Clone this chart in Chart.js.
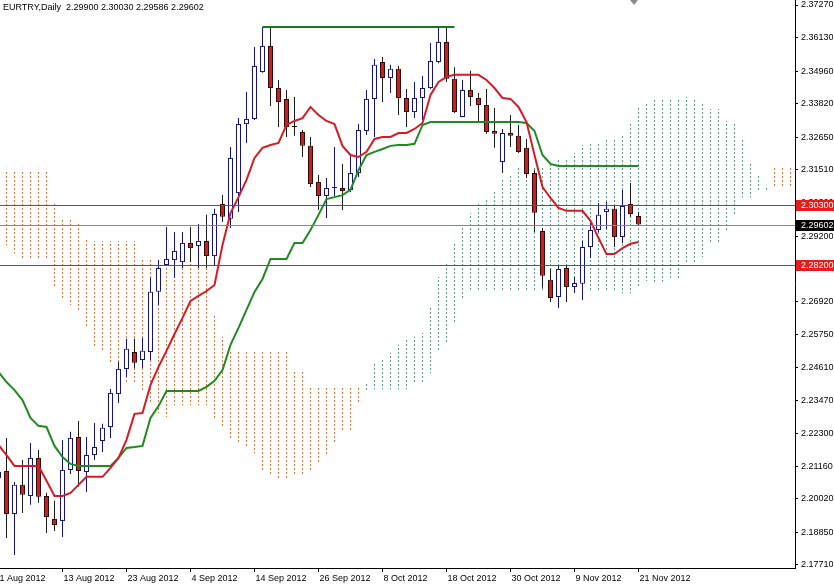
<!DOCTYPE html>
<html>
<head>
<meta charset="utf-8">
<title>EURTRY Daily</title>
<script src="https://cdn.jsdelivr.net/npm/chart.js@4.4.1/dist/chart.umd.min.js"></script>
<style>
    html, body { margin: 0; padding: 0; background: #fff; }
    #chart { display: block; }
</style>
</head>
<body>
<canvas id="chart" width="834" height="585"></canvas>
<script>
/* EURTRY daily candles with Ichimoku, 1 Aug - 21 Nov 2012 */

const symbolTitle = 'EURTRY,Daily  2.29900 2.30030 2.29586 2.29602';

// date labels on the time axis and the bar they sit on (bar 0 = 1 Aug 2012)
const dateLabels = ['1 Aug 2012', '13 Aug 2012', '23 Aug 2012', '4 Sep 2012', '14 Sep 2012',
    '26 Sep 2012', '8 Oct 2012', '18 Oct 2012', '30 Oct 2012', '9 Nov 2012', '21 Nov 2012'];
const dateLabelBars = [0, 8, 16, 24, 32, 40, 48, 56, 64, 72, 80];

const priceTicks = [2.37270, 2.36130, 2.34960, 2.33820, 2.32650, 2.31510, 2.30360, 2.29200, 2.28060,
    2.26920, 2.25750, 2.24610, 2.23470, 2.22300, 2.21160, 2.20020, 2.18850, 2.17710];

// candles, bars 0..80
const opens = [2.2075, 2.2099, 2.1949, 2.2051, 2.2012, 2.2145, 2.2012, 2.1932, 2.1925, 2.2103,
    2.2218, 2.2096, 2.2155, 2.2204, 2.2253, 2.2368, 2.2456, 2.2515, 2.2487, 2.2515,
    2.2725, 2.2819, 2.2836, 2.2829, 2.2896, 2.2885, 2.2903, 2.2850, 2.3032, 2.2980,
    2.3070, 2.3311, 2.3329, 2.3493, 2.3584, 2.3437, 2.3399, 2.3304, 2.3283, 2.3235,
    2.3109, 2.3060, 2.3088, 2.3088, 2.3081, 2.3140, 2.3287, 2.3399, 2.3528, 2.3472,
    2.3504, 2.3402, 2.3353, 2.3402, 2.3437, 2.3528, 2.3598, 2.3469, 2.3336, 2.3430,
    2.3402, 2.3378, 2.3287, 2.3179, 2.3280, 2.3270, 2.3228, 2.3140, 2.2938, 2.2767,
    2.2707, 2.2808, 2.2742, 2.2753, 2.2882, 2.2941, 2.3004, 2.3015, 2.2917, 2.3032,
    2.29900];
const highs = [2.2110, 2.2215, 2.2061, 2.2138, 2.2197, 2.2173, 2.2023, 2.1995, 2.2208, 2.2236,
    2.2274, 2.2218, 2.2267, 2.2264, 2.2386, 2.2480, 2.2561, 2.2561, 2.2564, 2.2774,
    2.2836, 2.2952, 2.2934, 2.2934, 2.2952, 2.2962, 2.2994, 2.3015, 2.3063, 2.3231,
    2.3332, 2.3423, 2.3580, 2.3650, 2.3650, 2.3465, 2.3430, 2.3406, 2.3290, 2.3266,
    2.3133, 2.3123, 2.3231, 2.3172, 2.3203, 2.3311, 2.3430, 2.3538, 2.3545, 2.3518,
    2.3514, 2.3434, 2.3458, 2.3479, 2.3594, 2.3650, 2.3650, 2.3510, 2.3465, 2.3497,
    2.3420, 2.3434, 2.3367, 2.3294, 2.3343, 2.3308, 2.3259, 2.3151, 2.2948, 2.2805,
    2.2819, 2.2819, 2.2777, 2.2903, 2.2966, 2.3035, 2.3039, 2.3028, 2.3081, 2.3105,
    2.30030];
const lows = [2.2060, 2.1865, 2.1806, 2.1953, 2.1981, 2.1988, 2.1883, 2.1890, 2.1869, 2.2089,
    2.2044, 2.2026, 2.2138, 2.2166, 2.2215, 2.2337, 2.2428, 2.2459, 2.2459, 2.2487,
    2.2679, 2.2815, 2.2774, 2.2808, 2.2829, 2.2808, 2.2808, 2.2819, 2.2969, 2.2948,
    2.3004, 2.3245, 2.3325, 2.3490, 2.3374, 2.3301, 2.3266, 2.3270, 2.3196, 2.3091,
    2.3011, 2.2983, 2.3060, 2.3011, 2.3074, 2.3126, 2.3273, 2.3266, 2.3388, 2.3420,
    2.3343, 2.3301, 2.3332, 2.3325, 2.3434, 2.3524, 2.3458, 2.3350, 2.3335, 2.3374,
    2.3318, 2.3277, 2.3228, 2.3140, 2.3231, 2.3210, 2.3123, 2.2934, 2.2739, 2.2690,
    2.2669, 2.2690, 2.2721, 2.2697, 2.2843, 2.2934, 2.2945, 2.2882, 2.2896, 2.2987,
    2.29586];
const closes = [2.2096, 2.1949, 2.2051, 2.2016, 2.2145, 2.2009, 2.1939, 2.1911, 2.2103, 2.2215,
    2.2099, 2.2155, 2.2183, 2.2250, 2.2372, 2.2456, 2.2526, 2.2477, 2.2519, 2.2725,
    2.2808, 2.2840, 2.2868, 2.2896, 2.2878, 2.2903, 2.2850, 2.2997, 2.2987, 2.3193,
    2.3311, 2.3329, 2.3514, 2.3584, 2.3437, 2.3388, 2.3301, 2.3301, 2.3235, 2.3102,
    2.3060, 2.3088, 2.3091, 2.3077, 2.3140, 2.3290, 2.3399, 2.3518, 2.3472, 2.3504,
    2.3402, 2.3353, 2.3402, 2.3437, 2.3531, 2.3598, 2.3469, 2.3353, 2.3430, 2.3406,
    2.3378, 2.3283, 2.3277, 2.3280, 2.3270, 2.3214, 2.3137, 2.3001, 2.2781, 2.2704,
    2.2805, 2.2742, 2.2756, 2.2882, 2.2941, 2.2994, 2.3015, 2.2917, 2.3025, 2.2997,
    2.29602];

// Ichimoku tenkan-sen / kijun-sen, bars 0..80
const tenkan = [2.2190, 2.2155, 2.2117, 2.2117, 2.2117, 2.2117, 2.2065, 2.2012, 2.2012, 2.2023,
    2.2051, 2.2079, 2.2079, 2.2079, 2.2110, 2.2145, 2.2208, 2.2299, 2.2302, 2.2400,
    2.2463, 2.2519, 2.2578, 2.2634, 2.2693, 2.2711, 2.2728, 2.2749, 2.2889, 2.3000,
    2.3056, 2.3116, 2.3193, 2.3228, 2.3238, 2.3245, 2.3308, 2.3322, 2.3332, 2.3371,
    2.3343, 2.3322, 2.3311, 2.3235, 2.3203, 2.3196, 2.3214, 2.3259, 2.3266, 2.3266,
    2.3280, 2.3280, 2.3294, 2.3315, 2.3413, 2.3458, 2.3476, 2.3483, 2.3483, 2.3483,
    2.3483, 2.3465, 2.3437, 2.3402, 2.3399, 2.3371, 2.3318, 2.3203, 2.3091, 2.3053,
    2.3018, 2.3008, 2.3008, 2.3008, 2.2973, 2.2913, 2.2857, 2.2857, 2.2878, 2.2893,
    2.2899];
const kijun = [2.2445, 2.2410, 2.2382, 2.2347, 2.2285, 2.2257, 2.2253, 2.2187, 2.2148, 2.2124,
    2.2117, 2.2117, 2.2117, 2.2117, 2.2117, 2.2145, 2.2180, 2.2183, 2.2187, 2.2285,
    2.2326, 2.2379, 2.2379, 2.2379, 2.2379, 2.2379, 2.2393, 2.2414, 2.2452, 2.2540,
    2.2599, 2.2662, 2.2725, 2.2770, 2.2840, 2.2840, 2.2840, 2.2896, 2.2896, 2.2941,
    2.2994, 2.3049, 2.3056, 2.3063, 2.3081, 2.3150, 2.3203, 2.3214, 2.3224, 2.3235,
    2.3238, 2.3238, 2.3242, 2.3308, 2.3318, 2.3318, 2.3318, 2.3318, 2.3318, 2.3318,
    2.3318, 2.3318, 2.3318, 2.3318, 2.3318, 2.3318, 2.3315, 2.3287, 2.3203, 2.3172,
    2.3165, 2.3165, 2.3165, 2.3165, 2.3165, 2.3165, 2.3165, 2.3165, 2.3165, 2.3165,
    2.3165];

// senkou span A / B (cloud), bars 0..99
const spanA = [null, 2.3144, 2.3144, 2.3144, 2.3144, 2.3144, 2.3144, 2.3039, 2.2983, 2.2983,
    2.2969, 2.2906, 2.2903, 2.2903, 2.2903, 2.2903, 2.2903, 2.2903, 2.2843, 2.2843,
    2.2836, 2.2836, 2.2836, 2.2836, 2.2836, 2.2836, 2.2836, 2.2644, 2.2568, 2.2515,
    2.2515, 2.2515, 2.2515, 2.2515, 2.2515, 2.2515, 2.2515, 2.2452, 2.2452, 2.2396,
    2.2396, 2.2396, 2.2396, 2.2396, 2.2396, 2.2396, 2.2382, 2.2386, 2.2386, 2.2386,
    2.2386, 2.2386, 2.2410, 2.2410, 2.2442, 2.2515, 2.2550, 2.2620, 2.2697, 2.2732,
    2.2732, 2.2732, 2.2732, 2.2725, 2.2725, 2.2725, 2.2725, 2.2725, 2.2725, 2.2725,
    2.2725, 2.2725, 2.2725, 2.2725, 2.2725, 2.2725, 2.2725, 2.2725, 2.2721, 2.2721,
    2.2742, 2.2763, 2.2756, 2.2760, 2.2774, 2.2767, 2.2829, 2.2826, 2.2847, 2.2896,
    2.2896, 2.2934, 2.2994, 2.3056, 2.3056, 2.3081, 2.3081, 2.3161, 2.3161, 2.3161];
const spanB = [null, 2.2889, 2.2861, 2.2836, 2.2836, 2.2836, 2.2836, 2.2739, 2.2697, 2.2679,
    2.2662, 2.2602, 2.2533, 2.2515, 2.2480, 2.2470, 2.2407, 2.2407, 2.2382, 2.2337,
    2.2302, 2.2288, 2.2330, 2.2330, 2.2330, 2.2330, 2.2330, 2.2278, 2.2253, 2.2208,
    2.2194, 2.2180, 2.2162, 2.2096, 2.2085, 2.2075, 2.2075, 2.2085, 2.2085, 2.2096,
    2.2131, 2.2155, 2.2197, 2.2239, 2.2239, 2.2340, 2.2410, 2.2473, 2.2487, 2.2512,
    2.2540, 2.2564, 2.2568, 2.2581, 2.2672, 2.2777, 2.2829, 2.2892, 2.2959, 2.3000,
    2.3039, 2.3046, 2.3081, 2.3123, 2.3130, 2.3165, 2.3168, 2.3158, 2.3158, 2.3168,
    2.3186, 2.3186, 2.3210, 2.3238, 2.3245, 2.3245, 2.3256, 2.3256, 2.3273, 2.3315,
    2.3371, 2.3388, 2.3399, 2.3399, 2.3399, 2.3399, 2.3406, 2.3395, 2.3381, 2.3364,
    2.3364, 2.3322, 2.3315, 2.3256, 2.3179, 2.3133, 2.3091, 2.3088, 2.3088, 2.3088];

// drawn objects
const resistanceLevel = 2.3650;
const resistanceBars = [33, 57];
const priceLevels = [2.30300, 2.28200];
const bidPrice = 2.29602;

const FONT_FAMILY = 'Liberation Sans';
const FONT_SIZE = 9;

const canvas = document.getElementById('chart');
const ctx = canvas.getContext('2d');

function dotPattern(color) {
    const c = document.createElement('canvas');
    c.width = 1;
    c.height = 4;
    const g = c.getContext('2d');
    g.fillStyle = color;
    g.fillRect(0, 0, 1, 2);
    return ctx.createPattern(c, 'repeat');
}

const upKumo = dotPattern('#d8743c');
const downKumo = dotPattern('#5a9888');

const bars = opens.map((_, i) => i);
const bullish = bars.map(i => closes[i] >= opens[i]);

const cloudData = [];
const cloudColors = [];
spanA.forEach((a, i) => {
    if (a === null) return;
    cloudData.push({ x: i, y: [a, spanB[i]] });
    cloudColors.push(a >= spanB[i] ? upKumo : downKumo);
});

const xMin = 0.1875;
const xMax = 99.5625;

const overlay = {
    id: 'overlay',
    afterDatasetsDraw(chart) {
        const { ctx, chartArea: a, scales: { y } } = chart;
        ctx.save();
        const level = (v, color) => {
            const py = Math.round(y.getPixelForValue(v));
            ctx.fillStyle = color;
            ctx.fillRect(a.left, py, a.right - a.left, 1);
        };
        level(bidPrice, '#7d8b98');
        priceLevels.forEach(v => level(v, '#e41e1e'));
        ctx.restore();
    },
    afterDraw(chart) {
        const { ctx, chartArea: a, scales: { y } } = chart;
        ctx.save();
        ctx.font = FONT_SIZE + 'px "' + FONT_FAMILY + '"';

        // price tags on the axis
        const tag = (v, bg) => {
            const py = Math.round(y.getPixelForValue(v));
            ctx.fillStyle = bg;
            ctx.fillRect(a.right + 1, py - 5, chart.width - a.right, 11);
            ctx.fillStyle = '#fff';
            ctx.textBaseline = 'middle';
            ctx.fillText(v.toFixed(5), a.right + 6, py + 0.5);
        };
        priceLevels.forEach(v => tag(v, '#e51c1c'));
        tag(bidPrice, '#000');

        // title
        ctx.fillStyle = '#000';
        ctx.textBaseline = 'alphabetic';
        ctx.fillText(symbolTitle, 3, 10);

        // chart shift marker
        ctx.fillStyle = '#8c8c8c';
        ctx.beginPath();
        ctx.moveTo(a.left + 630, a.top);
        ctx.lineTo(a.left + 638, a.top);
        ctx.lineTo(a.left + 634, a.top + 5);
        ctx.closePath();
        ctx.fill();
        ctx.restore();
    }
};

Chart.defaults.font.family = FONT_FAMILY;
Chart.defaults.font.size = FONT_SIZE;
Chart.defaults.color = '#000';

new Chart(ctx, {
    type: 'bar',
    data: {
        datasets: [
            {
                label: 'Kumo',
                data: cloudData,
                backgroundColor: cloudColors,
                borderWidth: 0,
                barThickness: 1,
                inflateAmount: 0,
                grouped: false,
                order: 10
            },
            {
                label: 'Wicks',
                data: bars.map(i => ({ x: i, y: [lows[i], highs[i]] })),
                backgroundColor: bars.map(i => bullish[i] ? '#14147a' : '#1a1a1a'),
                borderWidth: 0,
                barThickness: 1,
                inflateAmount: 0,
                grouped: false,
                order: 8
            },
            {
                label: 'Bodies',
                data: bars.map(i => ({ x: i, y: [opens[i], closes[i]] })),
                backgroundColor: bars.map(i => bullish[i] ? '#ffffff' : '#cf1c1c'),
                borderColor: bars.map(i => bullish[i] ? '#14147a' : '#2a0a0a'),
                borderWidth: 1,
                borderSkipped: false,
                barThickness: 5,
                inflateAmount: 0,
                grouped: false,
                order: 7
            },
            {
                type: 'line',
                label: 'Kijun-sen',
                data: bars.map(i => ({ x: i, y: kijun[i] })),
                borderColor: '#1f8a1f',
                borderWidth: 2,
                pointRadius: 0,
                tension: 0,
                order: 3
            },
            {
                type: 'line',
                label: 'Tenkan-sen',
                data: bars.map(i => ({ x: i, y: tenkan[i] })),
                borderColor: '#d41c26',
                borderWidth: 2,
                pointRadius: 0,
                tension: 0,
                order: 2
            },
            {
                type: 'line',
                label: 'Resistance',
                data: resistanceBars.map(b => ({ x: b, y: resistanceLevel })),
                borderColor: '#1a7a1a',
                borderWidth: 2,
                pointRadius: 0,
                order: 1
            }
        ]
    },
    options: {
        responsive: false,
        animation: false,
        devicePixelRatio: 1,
        layout: { padding: 0 },
        plugins: {
            legend: { display: false },
            tooltip: { enabled: false }
        },
        scales: {
            x: {
                type: 'linear',
                position: 'bottom',
                offset: false,
                min: xMin,
                max: xMax,
                grid: { drawOnChartArea: false, drawTicks: true, tickLength: 4, color: '#000', offset: false },
                border: { display: true, color: '#000', width: 1 },
                ticks: {
                    autoSkip: false,
                    maxRotation: 0,
                    align: 'start',
                    labelOffset: 1,
                    padding: 1,
                    color: '#000',
                    callback: (value, index) => dateLabels[index]
                },
                afterBuildTicks: scale => {
                    scale.ticks = dateLabelBars.map(v => ({ value: v }));
                },
                afterFit: scale => {
                    scale.height = 17;
                    scale.paddingLeft = 0;
                    scale.paddingRight = 0;
                }
            },
            y: {
                type: 'linear',
                position: 'right',
                min: 2.17605,
                max: 2.37445,
                grid: { drawOnChartArea: false, drawTicks: true, tickLength: 3, color: '#000' },
                border: { display: true, color: '#000', width: 1 },
                ticks: {
                    padding: 3,
                    color: '#000',
                    callback: value => value.toFixed(5)
                },
                afterBuildTicks: scale => {
                    scale.ticks = priceTicks.map(v => ({ value: v }));
                },
                afterFit: scale => {
                    scale.width = 39;
                    scale.paddingTop = 0;
                    scale.paddingBottom = 0;
                }
            }
        }
    },
    plugins: [overlay]
});
</script>
</body>
</html>
